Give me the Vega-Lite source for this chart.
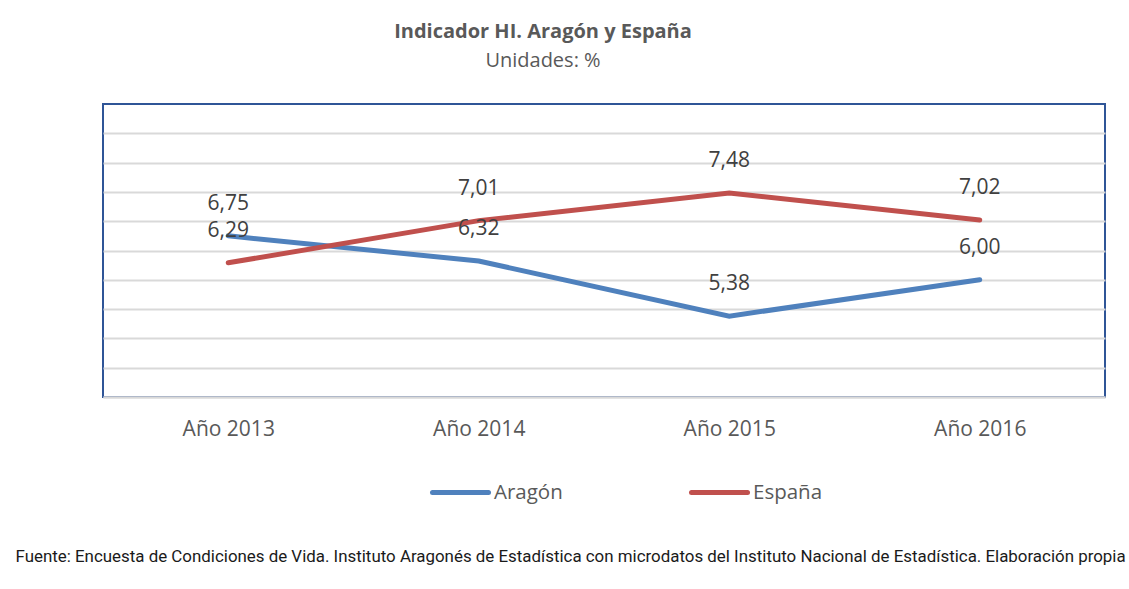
{
  "$schema": "https://vega.github.io/schema/vega-lite/v6.json",
  "width": 1002,
  "height": 293,
  "autosize": {"type": "none"},
  "padding": {"left": 103, "top": 104, "right": 24, "bottom": 192},
  "background": "white",
  "title": {
    "text": "Indicador HI. Aragón y España",
    "subtitle": "Unidades: %",
    "anchor": "middle",
    "dx": -61,
    "offset": 33,
    "font": "Open Sans",
    "fontSize": 20,
    "fontWeight": "bold",
    "color": "#595959",
    "subtitleFont": "Open Sans",
    "subtitleFontSize": 20,
    "subtitleColor": "#595959",
    "subtitlePadding": 9
  },
  "config": {
    "locale": {"number": {"decimal": ",", "thousands": ".", "grouping": [3], "currency": ["", " €"]}},
    "view": {"stroke": "#2f5597", "strokeWidth": 2},
    "font": "Open Sans"
  },
  "data": {
    "values": [
      {"year": "Año 2013", "serie": "Aragón", "valor": 6.75},
      {"year": "Año 2014", "serie": "Aragón", "valor": 6.32},
      {"year": "Año 2015", "serie": "Aragón", "valor": 5.38},
      {"year": "Año 2016", "serie": "Aragón", "valor": 6.00},
      {"year": "Año 2013", "serie": "España", "valor": 6.29},
      {"year": "Año 2014", "serie": "España", "valor": 7.01},
      {"year": "Año 2015", "serie": "España", "valor": 7.48},
      {"year": "Año 2016", "serie": "España", "valor": 7.02}
    ]
  },
  "encoding": {
    "x": {
      "field": "year",
      "type": "nominal",
      "scale": {"type": "point", "padding": 0.5},
      "axis": {
        "title": "Fuente: Encuesta de Condiciones de Vida. Instituto Aragonés de Estadística con microdatos del Instituto Nacional de Estadística. Elaboración propia",
        "titleFont": "Roboto",
        "titleFontSize": 16.9,
        "titleFontWeight": "normal",
        "titleColor": "#1a1a1a",
        "titleAnchor": "start",
        "titleAlign": "left",
        "titleX": -88,
        "titleY": 159,
        "titleBaseline": "middle",
        "labelAngle": 0,
        "labelFontSize": 21,
        "labelColor": "#595959",
        "labelPadding": 21,
        "ticks": false,
        "domainColor": "#d9d9d9",
        "domainWidth": 2,
        "grid": false
      }
    },
    "y": {
      "field": "valor",
      "type": "quantitative",
      "scale": {"domain": [4, 9], "nice": false, "zero": false},
      "axis": {
        "title": null,
        "labels": false,
        "ticks": false,
        "domain": false,
        "grid": true,
        "gridColor": "#d9d9d9",
        "gridWidth": 2,
        "values": [4, 4.5, 5, 5.5, 6, 6.5, 7, 7.5, 8, 8.5]
      }
    },
    "color": {
      "field": "serie",
      "type": "nominal",
      "scale": {"domain": ["Aragón", "España"], "range": ["#4f81bd", "#c0504d"]},
      "legend": {
        "title": null,
        "orient": "none",
        "direction": "horizontal",
        "legendX": 327,
        "legendY": 358,
        "symbolType": "stroke",
        "symbolSize": 3136,
        "symbolStrokeWidth": 5,
        "labelFontSize": 20.5,
        "labelColor": "#595959",
        "labelOffset": 3,
        "columnPadding": 118,
        "encode": {"symbols": {"update": {"strokeCap": {"value": "round"}}}}
      }
    }
  },
  "layer": [
    {"mark": {"type": "line", "strokeWidth": 5, "strokeCap": "round"}},
    {
      "mark": {"type": "text", "dy": -32, "fontSize": 21, "color": "#404040"},
      "encoding": {
        "text": {"field": "valor", "type": "quantitative", "format": ".2f"},
        "color": {"value": "#404040"}
      }
    }
  ]
}
